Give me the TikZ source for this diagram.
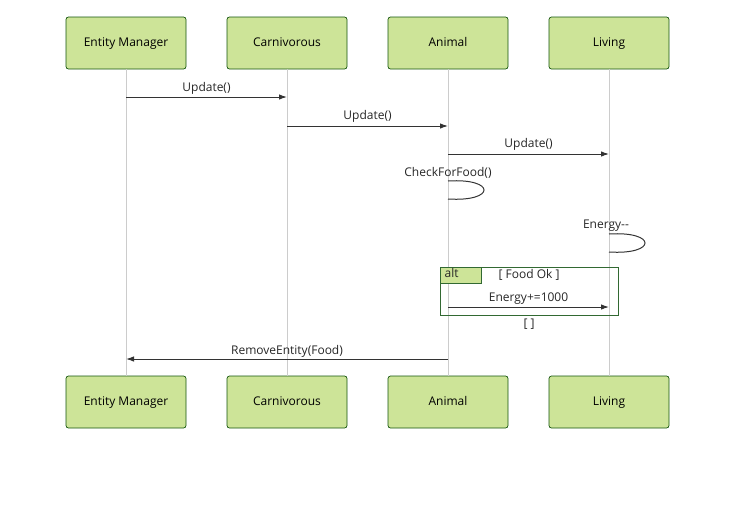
\documentclass[tikz,border=0pt]{standalone}
\usepackage{fontspec}
\setmainfont{Open Sans}
\usetikzlibrary{arrows.meta, positioning}

\definecolor{actorfill}{HTML}{CDE498}
\definecolor{actorline}{HTML}{13540C}
\definecolor{altline}{HTML}{326932}
\definecolor{msgline}{HTML}{333333}

\begin{document}
\begin{tikzpicture}[x=1pt, y=-1pt,
    font=\fontsize{12}{14}\selectfont,
    every node/.style={text height=9pt, text depth=3pt},
    actor/.style={draw=actorline, fill=actorfill, rounded corners=2.5pt,
      minimum width=120pt, minimum height=52pt, inner sep=0pt, line width=0.7pt},
    life/.style={draw=black!20, line width=0.8pt},
    msg/.style={draw=msgline, line width=1pt, -{Latex[length=8pt, width=5.5pt]}},
    self/.style={draw=msgline, line width=1pt},
    lbl/.style={inner sep=0pt, text=black!85}]
  \useasboundingbox (0,0) rectangle (743,504);

  % participants
  \node[actor] (em) at (126,43) {Entity Manager};
  \node[actor] (ca) at (287,43) {Carnivorous};
  \node[actor] (an) at (448,43) {Animal};
  \node[actor] (li) at (609,43) {Living};
  \node[actor] (em2) at (126,402) {Entity Manager};
  \node[actor] (ca2) at (287,402) {Carnivorous};
  \node[actor] (an2) at (448,402) {Animal};
  \node[actor] (li2) at (609,402) {Living};

  \draw[life] (em) -- (em2);
  \draw[life] (ca) -- (ca2);
  \draw[life] (an) -- (an2);
  \draw[life] (li) -- (li2);

  % points on the lifelines
  \coordinate (a1) at (126,97);  \coordinate (b1) at (287,97);
  \coordinate (a2) at (287,126); \coordinate (b2) at (448,126);
  \coordinate (a3) at (448,154); \coordinate (b3) at (609,154);
  \coordinate (c1) at (448,181); \coordinate (c2) at (448,199);
  \coordinate (d1) at (609,234); \coordinate (d2) at (609,252);
  \coordinate (a4) at (448,307); \coordinate (b4) at (609,307);
  \coordinate (a5) at (448,359); \coordinate (b5) at (126,359);

  % messages
  \draw[msg] (a1) -- (b1);
  \node[lbl] (t1) at (206.5,88) {Update()};
  \draw[msg] (a2) -- (b2);
  \node[lbl] (t2) at (367.5,116) {Update()};
  \draw[msg] (a3) -- (b3);
  \node[lbl] (t3) at (528.5,144) {Update()};

  \node[lbl] (t4) at (448,173) {CheckForFood()};
  \draw[self] (c1) .. controls (496,178) and (496,202) .. (c2);
  \node[lbl] (t5) at (606,225) {Energy-{}-};
  \draw[self] (d1) .. controls (657,231) and (657,255) .. (d2);

  % alt fragment
  \node[draw=altline, line width=1pt, minimum width=178pt, minimum height=48pt,
    inner sep=0pt] (alt) at (529,291) {};
  \node[draw=altline, fill=actorfill, line width=0.7pt, minimum width=41pt,
    minimum height=16pt, inner sep=0pt, anchor=north west] (tag)
    at (alt.north west) {};
  \node[lbl, anchor=west] (tagt) at ([xshift=5pt]tag.west) {alt};
  \node[lbl] (cond) at (529,275) {[ Food Ok ]};
  \node[lbl] (t6) at (528.5,298) {Energy+=1000};
  \draw[msg] (a4) -- (b4);
  \node[lbl] (else) at (529,324) {[ ]};

  \draw[msg] (a5) -- (b5);
  \node[lbl] (t7) at (287,351) {RemoveEntity(Food)};
\end{tikzpicture}
\end{document}
